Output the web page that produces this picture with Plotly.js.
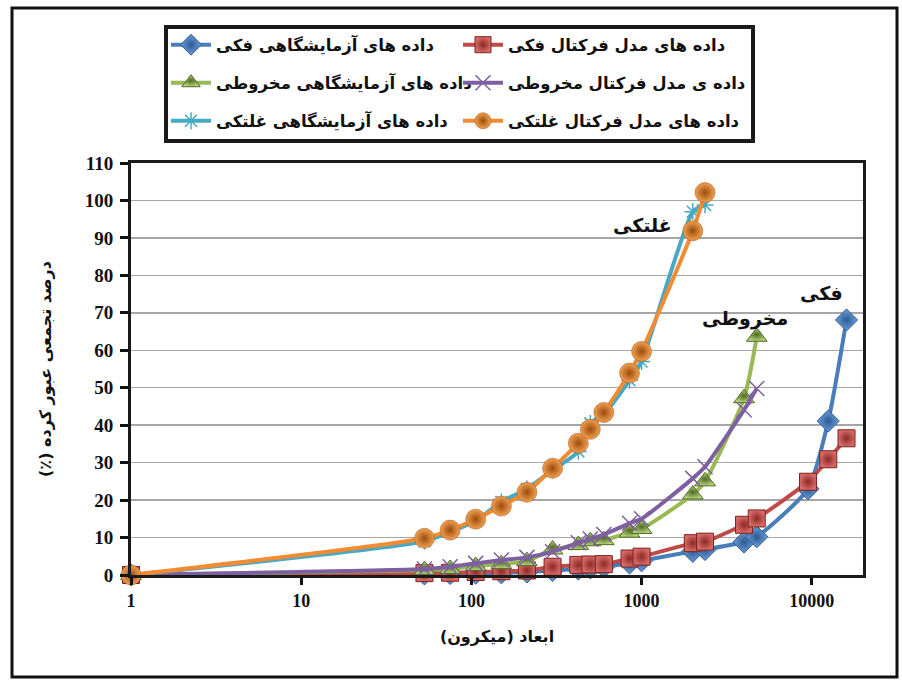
<!DOCTYPE html>
<html>
<head>
<meta charset="utf-8">
<script src="https://cdn.plot.ly/plotly-3.0.1.min.js"></script>
<style>
html,body{margin:0;padding:0;background:#fff;}
#chart{width:902px;height:682px;}
</style>
</head>
<body>
<div id="chart"></div>
<script>
// ---- data ----
const sizesFaki = [1, 53, 75, 106, 150, 212, 300, 425, 500, 600, 850, 1000, 2000, 2360, 4000, 4750, 9500, 12500, 16000];
const expFaki   = [0, 0.3, 0.4, 0.5, 0.6, 0.8, 1.2, 1.6, 1.9, 2.2, 3.2, 3.8, 6.3, 6.8, 8.8, 10.2, 23.0, 41.1, 68.1];
const fracFaki  = [0, 0.5, 0.6, 0.8, 1.0, 1.2, 2.2, 2.7, 2.8, 2.9, 4.4, 4.9, 8.5, 8.9, 13.4, 15.1, 24.9, 30.9, 36.5];

const sizesMakh = [1, 53, 75, 106, 150, 212, 300, 425, 500, 600, 850, 1000, 2000, 2360, 4000, 4750];
const expMakh   = [0, 1.3, 1.6, 2.4, 2.9, 3.7, 6.8, 8.0, 9.0, 9.3, 11.3, 12.3, 21.5, 25.0, 47.2, 63.6];
const fracMakh  = [0, 1.6, 2.2, 3.1, 4.0, 4.7, 6.2, 8.6, 9.6, 10.8, 13.8, 15.0, 25.8, 28.9, 44.1, 49.8];

const sizesGhal = [1, 53, 75, 106, 150, 212, 300, 425, 500, 600, 850, 1000, 2000, 2360];
const expGhal   = [0, 9.0, 11.5, 14.5, 19.5, 23.0, 28.0, 33.0, 40.5, 43.0, 52.0, 57.0, 97.0, 98.8];
const fracGhal  = [0, 9.8, 12.0, 14.9, 18.4, 22.1, 28.5, 35.2, 38.9, 43.4, 53.9, 59.7, 91.9, 102.1];

const seriesNames = [
  'داده های آزمایشگاهی فکی',
  'داده های مدل فرکتال فکی',
  'داده های آزمایشگاهی مخروطی',
  'داده ی مدل فرکتال مخروطی',
  'داده های آزمایشگاهی غلتکی',
  'داده های مدل فرکتال غلتکی'
];
const xTickVals = [1, 10, 100, 1000, 10000];
const xTickText = ['1', '10', '100', '1000', '10000'];
const yTickVals = [0, 10, 20, 30, 40, 50, 60, 70, 80, 90, 100, 110];
const xTitle = 'ابعاد (میکرون)';
const yTitle = 'درصد تجمعی عبور کرده (٪)';
const curveLabels = ['غلتکی', 'مخروطی', 'فکی'];
const curveLabelX = [1010, 4030, 11400];
const curveLabelY = [93.5, 68.6, 75.3];

// ---- traces ----
const RLM = '\u200F';
const fa = 'DejaVu Sans';
const lineShape = {shape: 'spline', smoothing: 0.6, width: 4};
const legendOf = ['legend', 'legend', 'legend2', 'legend2', 'legend3', 'legend3'];
function tr(i, x, y, color, marker) {
  return {
    x: x, y: y, name: seriesNames[i], legend: legendOf[i],
    type: 'scatter', mode: 'lines+markers',
    line: Object.assign({color: color}, lineShape),
    marker: marker, cliponaxis: false
  };
}
const traces = [
  tr(0, sizesFaki, expFaki, '#4a7ebb',
     {symbol: 'diamond', size: 17, color: '#6d9fdb', gradient: {type: 'radial', color: '#2c5a92'}, line: {color: '#2c5a92', width: 1}}),
  tr(1, sizesFaki, fracFaki, '#be4b48',
     {symbol: 'square', size: 17, color: '#d86a66', gradient: {type: 'radial', color: '#8a2a27'}, line: {color: '#7a2220', width: 1}}),
  tr(2, sizesMakh, expMakh, '#98b954',
     {symbol: 'triangle-up', size: 18, color: '#b7d47c', gradient: {type: 'radial', color: '#4f6a22'}, line: {color: '#4f6a22', width: 1}}),
  tr(3, sizesMakh, fracMakh, '#7d60a0',
     {symbol: 'x-thin-open', size: 15, color: '#7d60a0', line: {color: '#7d60a0', width: 1.5}}),
  tr(4, sizesGhal, expGhal, '#46aac5',
     {symbol: 'asterisk-open', size: 14, color: '#46aac5', line: {color: '#46aac5', width: 1.5}}),
  tr(5, sizesGhal, fracGhal, '#f38b32',
     {symbol: 'circle', size: 20, color: '#f2a050', gradient: {type: 'radial', color: '#9a4c0c'}, line: {color: '#9a4c0c', width: 0.5}})
];

const annotations = curveLabels.map((t, i) => ({
  x: Math.log10(curveLabelX[i]), y: curveLabelY[i], xref: 'x', yref: 'y',
  text: t, showarrow: false,
  font: {family: fa, size: 19, color: '#111', weight: 'bold'}
}));

// plot area in pixels: left 131, right 863, top 163, bottom 575
const PL = 131, PW = 732, PB = 575, PH = 412;
const px = v => (v - PL) / PW;
const py = v => (PB - v) / PH;

function legendRow(yPix) {
  return {
    orientation: 'h', x: px(166), y: py(yPix), xanchor: 'left', yanchor: 'middle',
    borderwidth: 0, bgcolor: 'rgba(0,0,0,0)',
    entrywidth: 237, entrywidthmode: 'pixels',
    font: {family: fa, size: 16.5, color: '#111', weight: 'bold'},
    itemwidth: 40, traceorder: 'normal'
  };
}

const layout = {
  width: 902, height: 682,
  margin: {l: 131, r: 39, t: 163, b: 107},
  paper_bgcolor: '#fff', plot_bgcolor: '#fff',
  showlegend: true,
  legend: legendRow(45),
  legend2: legendRow(83),
  legend3: legendRow(121),
  xaxis: {
    type: 'log', range: [0, Math.log10(20000)],
    tickmode: 'array', tickvals: xTickVals, ticktext: xTickText,
    ticks: 'outside', ticklen: 7, tickwidth: 3, tickcolor: '#111',
    tickfont: {family: 'Liberation Serif', size: 18, color: '#111', weight: 'bold'},
    showgrid: false, zeroline: false,
    showline: true, linecolor: '#1a1a1a', linewidth: 3, mirror: true,
    title: {text: xTitle + RLM, standoff: 22, font: {family: fa, size: 16, color: '#111', weight: 'bold'}}
  },
  yaxis: {
    range: [0, 110], tickmode: 'array', tickvals: yTickVals,
    ticks: 'outside', ticklen: 8, tickwidth: 3, tickcolor: '#111',
    ticklabelstandoff: 3,
    tickfont: {family: 'Liberation Serif', size: 19, color: '#111', weight: 'bold'},
    showgrid: true, gridcolor: '#a6a6a6', gridwidth: 1.5, zeroline: false,
    showline: true, linecolor: '#1a1a1a', linewidth: 3, mirror: true,
    title: {text: yTitle + RLM, standoff: 30, font: {family: fa, size: 16, color: '#111', weight: 'bold'}}
  },
  annotations: annotations,
  shapes: [
    {
      type: 'rect', xref: 'paper', yref: 'paper',
      x0: px(12), x1: px(897), y0: py(677), y1: py(8),
      line: {color: '#111', width: 3}, fillcolor: 'rgba(0,0,0,0)', layer: 'below'
    },
    {
      type: 'rect', xref: 'paper', yref: 'paper',
      x0: px(166), x1: px(753), y0: py(141), y1: py(27),
      line: {color: '#1a1a1a', width: 4}, fillcolor: '#fff', layer: 'below'
    }
  ]
};

Plotly.newPlot('chart', traces, layout, {displayModeBar: false, staticPlot: true});
</script>
</body>
</html>
